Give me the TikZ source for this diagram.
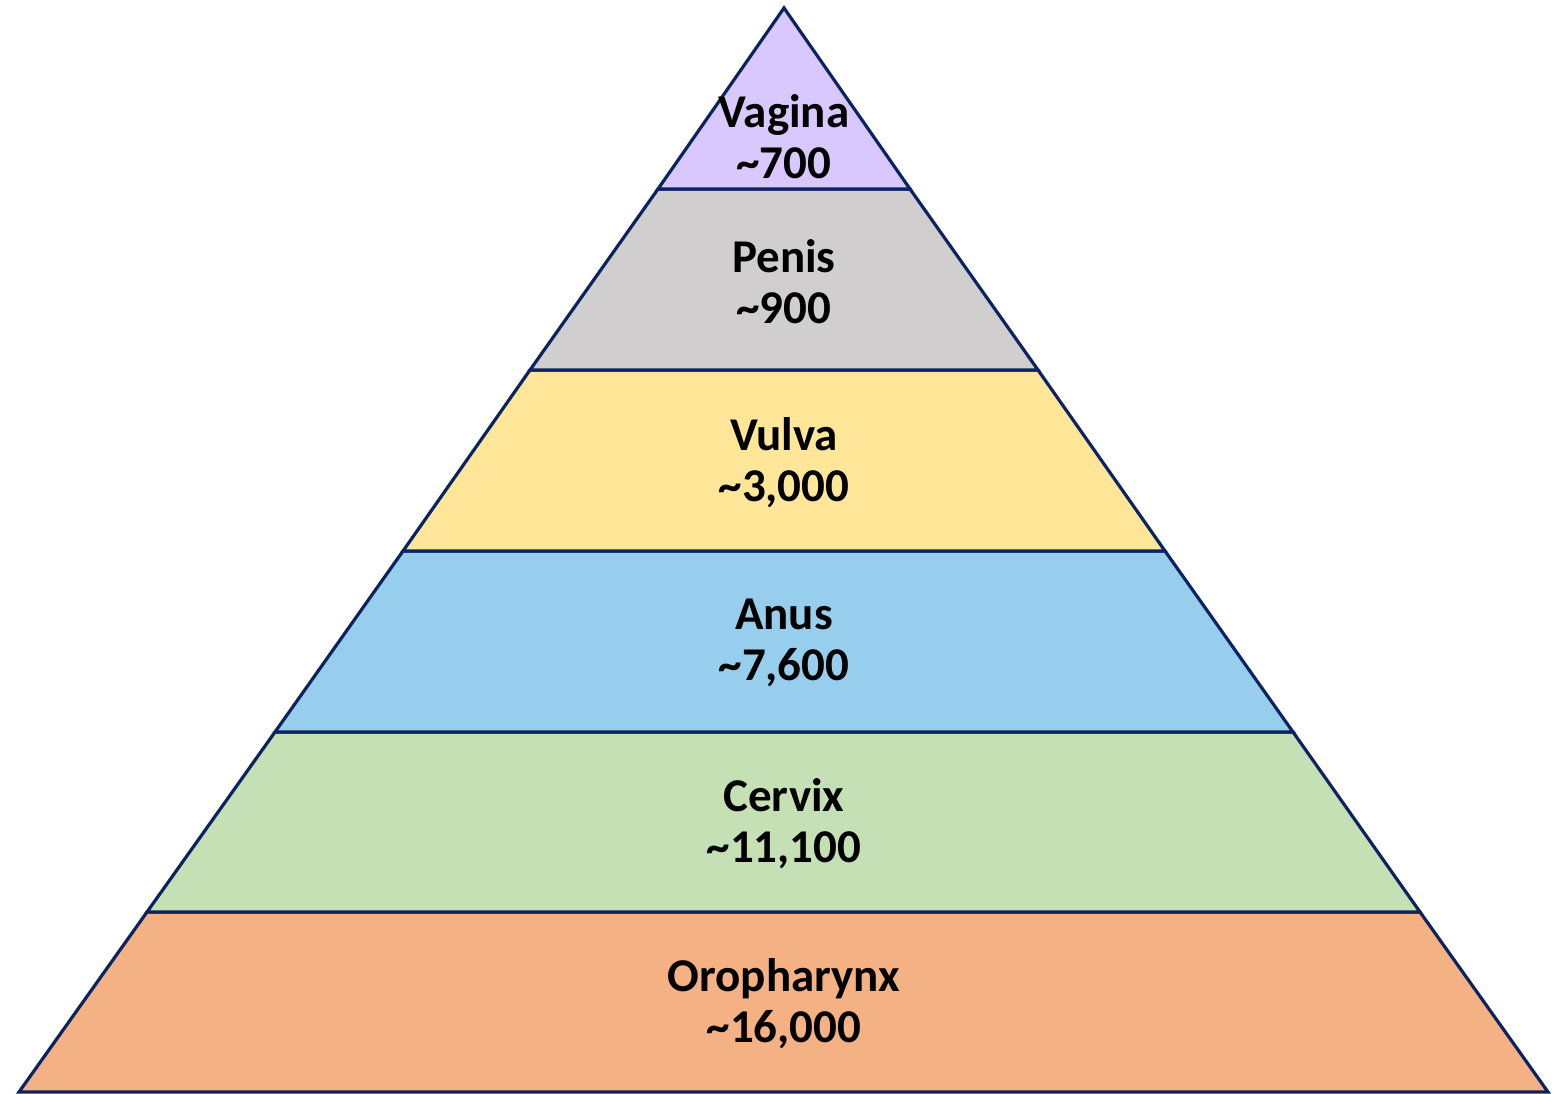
\documentclass[tikz,border=0pt]{standalone}
\usepackage{fontspec}
\setmainfont{Carlito}
\definecolor{edge}{HTML}{0B2461}
\definecolor{cVag}{HTML}{D9C8FE}
\definecolor{cPen}{HTML}{D0CECE}
\definecolor{cVul}{HTML}{FFE699}
\definecolor{cAnu}{HTML}{97CEEE}
\definecolor{cCer}{HTML}{C5E0B4}
\definecolor{cOro}{HTML}{F4B183}
\begin{document}
\begin{tikzpicture}[x=1pt,y=-1pt,
  layer/.style={draw=edge,line width=3.2pt,line join=miter},
  lbl/.style={font=\fontsize{47}{51}\selectfont\bfseries,align=center,text=black,inner sep=0pt}]
\useasboundingbox (0,0) rectangle (1557,1094);
\fill[white] (0,0) rectangle (1557,1094);
\coordinate (apex) at (784,8);
\coordinate (l1) at (658,189); \coordinate (r1) at (910,189);
\coordinate (l2) at (530,370); \coordinate (r2) at (1038,370);
\coordinate (l3) at (403,551); \coordinate (r3) at (1165,551);
\coordinate (l4) at (275,732); \coordinate (r4) at (1293,732);
\coordinate (l5) at (147,912); \coordinate (r5) at (1420,912);
\coordinate (l6) at (19,1092); \coordinate (r6) at (1548,1092);
\filldraw[layer,fill=cOro] (l5) -- (r5) -- (r6) -- (l6) -- cycle;
\filldraw[layer,fill=cCer] (l4) -- (r4) -- (r5) -- (l5) -- cycle;
\filldraw[layer,fill=cAnu] (l3) -- (r3) -- (r4) -- (l4) -- cycle;
\filldraw[layer,fill=cVul] (l2) -- (r2) -- (r3) -- (l3) -- cycle;
\filldraw[layer,fill=cPen] (l1) -- (r1) -- (r2) -- (l2) -- cycle;
\filldraw[layer,fill=cVag] (apex) -- (r1) -- (l1) -- cycle;
\node[lbl] (vag) at (784,137) {Vagina\\\textasciitilde700};
\node[lbl] (pen) at (784,282) {Penis\\\textasciitilde900};
\node[lbl] (vul) at (784,463) {Vulva\\\textasciitilde3,000};
\node[lbl] (anu) at (784,643) {Anus\\\textasciitilde7,600};
\node[lbl] (cer) at (784,824) {Cervix\\\textasciitilde11,100};
\node[lbl] (oro) at (784,1004) {Oropharynx\\\textasciitilde16,000};
\end{tikzpicture}
\end{document}
